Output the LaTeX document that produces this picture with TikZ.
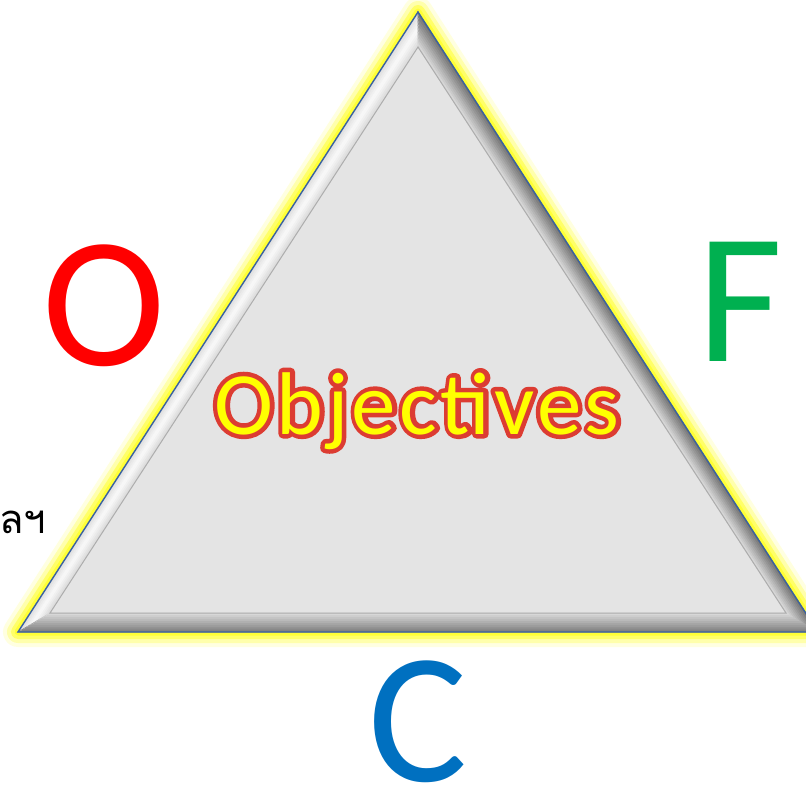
\documentclass[tikz,border=0pt]{standalone}
\usepackage{fontspec}
\setmainfont{Carlito}
\newfontfamily\titlefont[LetterSpace=4]{Carlito}
\newfontfamily\thaifont[Script=Thai]{Loma}
\usepackage{tikz}
\usetikzlibrary{calc}
\definecolor{objRed}{HTML}{FF0000}
\definecolor{fGreen}{HTML}{00B050}
\definecolor{cBlue}{HTML}{0070C0}
\definecolor{glowY}{HTML}{FFFF30}
\definecolor{edgeBlue}{HTML}{3A62A0}
\definecolor{faceGrey}{HTML}{E4E4E4}
\definecolor{rimRed}{HTML}{DC3C32}
\definecolor{wordYellow}{HTML}{FFFF00}
% red rim round a word: stroked copy, then the plain word on top
\newcommand{\rimword}[1]{\rlap{\textcolor{rimRed}{\special{pdf:code 2 Tr 9 w 1 j}#1\special{pdf:code 0 Tr 0.4 w 0 j}}}#1}

\begin{document}
\begin{tikzpicture}[x=1pt, y=-1pt,
  letter/.style={inner sep=0pt, font=\fontsize{186}{186}\selectfont},
]
\useasboundingbox (0,0) rectangle (806,792);

% Triangle corners (outer and inner edge of the bevel)
\coordinate (top) at (418,12);
\coordinate (left) at (18,632);
\coordinate (right) at (818,632);
\coordinate (itop) at (418,47);
\coordinate (ileft) at (50,613);
\coordinate (iright) at (786,613);

% Yellow glow
\draw[glowY, line width=30, opacity=0.15, line join=round] (top) -- (left) -- (right) -- cycle;
\draw[glowY, line width=22, opacity=0.3, line join=round] (top) -- (left) -- (right) -- cycle;
\draw[glowY, line width=14, opacity=0.55, line join=round] (top) -- (left) -- (right) -- cycle;
\draw[glowY, line width=7, opacity=0.9, line join=round] (top) -- (left) -- (right) -- cycle;

% Face
\fill[faceGrey] (top) -- (left) -- (right) -- cycle;

% Bevel bands
\foreach \k in {0,...,9} {
  \pgfmathsetmacro\ta{\k/10}
  \pgfmathsetmacro\tb{(\k+1)/10}
  \pgfmathsetmacro\gl{2+12*abs(1-(2*\k+1)/10)}
  \pgfmathsetmacro\gr{54-4.2*\k}
  \pgfmathsetmacro\gb{50-3.8*\k}
  \filldraw[fill=black!\gl!white, draw=black!\gl!white, line width=0.6]
    ($(top)!\ta!(itop)$) -- ($(left)!\ta!(ileft)$) -- ($(left)!\tb!(ileft)$) -- ($(top)!\tb!(itop)$) -- cycle;
  \filldraw[fill=black!\gr!white, draw=black!\gr!white, line width=0.6]
    ($(top)!\ta!(itop)$) -- ($(right)!\ta!(iright)$) -- ($(right)!\tb!(iright)$) -- ($(top)!\tb!(itop)$) -- cycle;
  \filldraw[fill=black!\gb!white, draw=black!\gb!white, line width=0.6]
    ($(left)!\ta!(ileft)$) -- ($(right)!\ta!(iright)$) -- ($(right)!\tb!(iright)$) -- ($(left)!\tb!(ileft)$) -- cycle;
}

% Inner line and outer edge
\draw[black!32, line width=1] (itop) -- (ileft) -- (iright) -- cycle;
\draw[edgeBlue, line width=1.4] (top) -- (left) -- (right) -- cycle;

% Letters round the triangle
\node[letter, text=objRed] (o) at (104,306) {O};
\node[letter, text=fGreen] (f) at (740,302) {F};
\node[letter, text=cBlue] (c) at (418,722) {C};
\node[font=\thaifont\fontsize{40}{40}\selectfont, anchor=west, inner sep=0pt] (tha) at (-1,522) {ลฯ};

% Title in the middle
\node[font=\titlefont\fontsize{89}{89}\selectfont, text=wordYellow, anchor=base, inner sep=0pt] (obj) at (417,434) {\rimword{Objectives}};
\end{tikzpicture}
\end{document}
